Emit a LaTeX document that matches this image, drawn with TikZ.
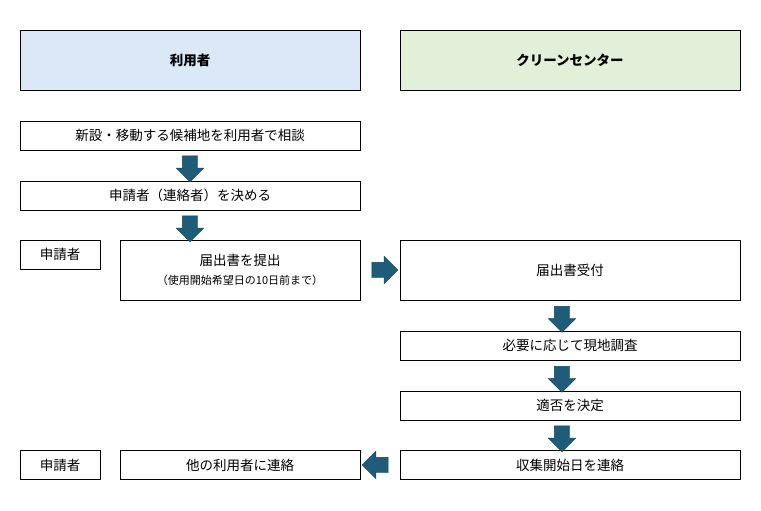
\documentclass[tikz,border=0pt]{standalone}
\usepackage{fontspec}
\setmainfont{Noto Sans CJK JP}
\usetikzlibrary{shapes.arrows,positioning}
\definecolor{hdrblue}{HTML}{DAE8F7}
\definecolor{hdrgreen}{HTML}{E2F0D9}
\definecolor{arrblue}{HTML}{1F5C7A}
\tikzset{
  box/.style={draw,line width=0.6pt,minimum height=29pt,inner sep=0pt,font=\fontsize{13.5}{15}\selectfont},
  hdr/.style={box,minimum width=340pt,minimum height=60pt,font=\fontsize{13.5}{15}\selectfont\bfseries},
  blk/.style={single arrow,fill=arrblue,draw=arrblue!70!black,line width=0.4pt,minimum height=26pt,single arrow head extend=6pt,inner sep=7.5pt,single arrow tip angle=90},
}
\begin{document}
\begin{tikzpicture}[x=1pt,y=-1pt]
\useasboundingbox (0,0) rectangle (761,511);
% headers
\node[hdr,fill=hdrblue] (user) at (190,60) {利用者};
\node[hdr,fill=hdrgreen] (center) at (570,60) {クリーンセンター};
% user side
\node[box,minimum width=340pt] (consult) at (190,135.5) {新設・移動する候補地を利用者で相談};
\node[box,minimum width=340pt] (decide) at (190,195.5) {申請者（連絡者）を決める};
\node[box,minimum width=80pt] (app1) at (60,254.5) {申請者};
\node[box,minimum width=240pt,minimum height=60pt,align=center] (submit) at (240,270)
  {届出書を提出\\[4pt]{\fontsize{11}{12}\selectfont （使用開始希望日の10日前まで）}};
\node[box,minimum width=80pt] (app2) at (60,465) {申請者};
\node[box,minimum width=240pt] (notify) at (240,465) {他の利用者に連絡};
% center side
\node[box,minimum width=340pt,minimum height=60pt] (receive) at (570,270) {届出書受付};
\node[box,minimum width=340pt] (survey) at (570,345.5) {必要に応じて現地調査};
\node[box,minimum width=340pt] (judge) at (570,405.5) {適否を決定};
\node[box,minimum width=340pt] (start) at (570,465) {収集開始日を連絡};
% block arrows
\node[blk,rotate=-90] (a1) at (190,165) {};
\node[blk,rotate=-90] (a2) at (190,225) {};
\node[blk] (a3) at (381,270) {};
\node[blk,rotate=-90] (a4) at (562,315.5) {};
\node[blk,rotate=-90] (a5) at (562,375.5) {};
\node[blk,rotate=-90] (a6) at (562,435) {};
\node[blk,rotate=180] (a7) at (379,465) {};
\end{tikzpicture}
\end{document}
